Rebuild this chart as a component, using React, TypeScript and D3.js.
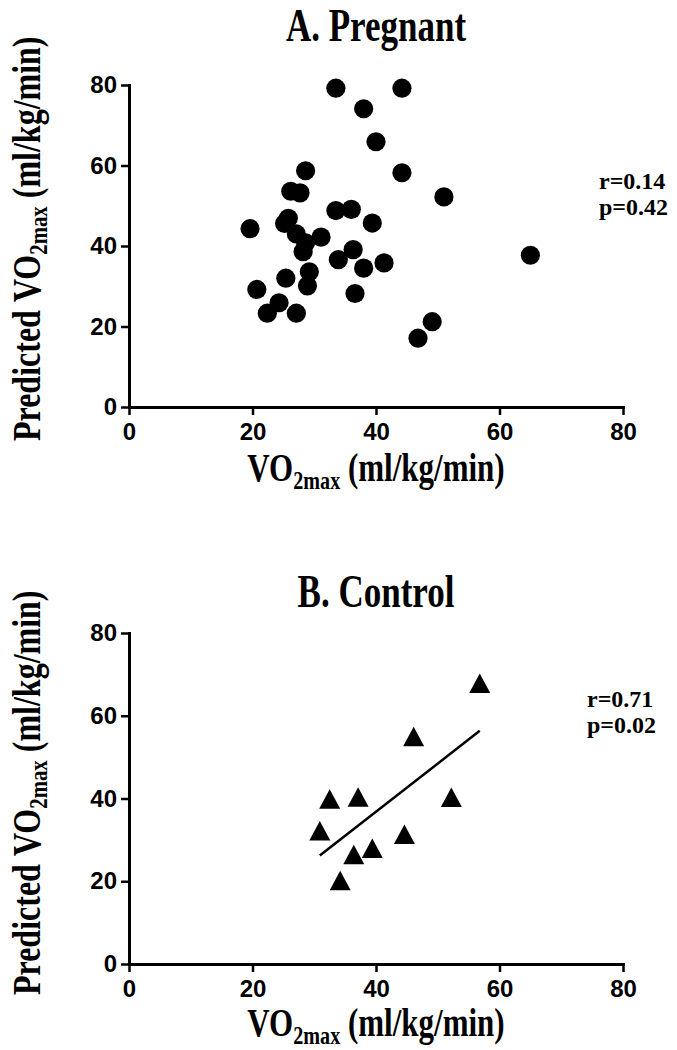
import * as d3 from "d3";
import { useEffect, useRef } from "react";

// Panel A: pregnant women
const pregnantVO2max = [
  33.5, 44.2, 38.0, 40.0, 28.6, 44.2, 51.0, 26.2, 27.7, 33.5, 36.0, 39.4, 25.8, 25.2, 19.6, 27.1, 31.1,
  28.6, 28.2, 36.3, 33.9, 41.3, 38.0, 29.2, 25.4, 28.9, 20.7, 36.6, 24.3, 22.4, 27.1, 49.1, 46.8, 65.0,
];
const pregnantPredicted = [
  79.2, 79.2, 74.1, 65.9, 58.7, 58.2, 52.2, 53.6, 53.2, 48.8, 49.1, 45.7, 46.9, 45.6, 44.3, 43.0, 42.2,
  40.8, 38.6, 39.1, 36.6, 35.8, 34.5, 33.6, 32.0, 30.1, 29.2, 28.2, 25.9, 23.3, 23.3, 21.2, 17.1, 37.7,
];

// Panel B: controls
const controlVO2max = [56.8, 46.1, 32.5, 37.1, 52.2, 30.9, 44.6, 36.4, 39.4, 34.2];
const controlPredicted = [67.7, 54.8, 39.7, 40.2, 40.1, 32.0, 31.2, 26.3, 27.8, 20.0];

const axisTicks = [0, 20, 40, 60, 80];
const titles = ["A. Pregnant", "B. Control"];
const stats = [
  ["r=0.14", "p=0.42"],
  ["r=0.71", "p=0.02"],
];

const width = 677;
const height = 1050;
const serif = "'Liberation Serif', 'Times New Roman', serif";
const sans = "'Liberation Sans', Arial, sans-serif";

const layouts = [
  { left: 129, right: 623, top: 85, bottom: 407, titleY: 41, statX: 599, statY: 189, yLabelStart: 441, xLabelY: 481 },
  { left: 129, right: 623, top: 633, bottom: 964, titleY: 607, statX: 587, statY: 707, yLabelStart: 995, xLabelY: 1036 },
];

function addVO2Label(text: d3.Selection<SVGTextElement, unknown, null, undefined>, prefix: string, size: number) {
  if (prefix) text.append("tspan").text(prefix);
  text.append("tspan").text("VO");
  text.append("tspan").attr("font-size", size * 0.65).attr("dy", 6).text("2max");
  text.append("tspan").attr("dy", -6).text(" (ml/kg/min)");
}

export default function App() {
  const ref = useRef<SVGSVGElement>(null);

  useEffect(() => {
    if (!ref.current) return;
    const svg = d3.select(ref.current);
    svg.selectAll("*").remove();

    const panels = [
      { xs: pregnantVO2max, ys: pregnantPredicted, marker: "circle", fit: false },
      { xs: controlVO2max, ys: controlPredicted, marker: "triangle", fit: true },
    ];

    panels.forEach((p, i) => {
      const L = layouts[i];
      const x = d3.scaleLinear().domain([0, 80]).range([L.left, L.right]);
      const y = d3.scaleLinear().domain([0, 80]).range([L.bottom, L.top]);
      const g = svg.append("g");

      // title
      const cx = (L.left + L.right) / 2;
      g.append("g")
        .attr("transform", `translate(${cx},${L.titleY}) scale(1,1.3)`)
        .append("text")
        .attr("text-anchor", "middle")
        .attr("font-family", serif)
        .attr("font-weight", "bold")
        .attr("font-size", 35)
        .text(titles[i]);

      // axes
      const xAxis = g
        .append("g")
        .attr("transform", `translate(0,${L.bottom})`)
        .call(d3.axisBottom(x).tickValues(axisTicks).tickSize(8).tickSizeOuter(0).tickPadding(8));
      const yAxis = g
        .append("g")
        .attr("transform", `translate(${L.left},0)`)
        .call(d3.axisLeft(y).tickValues(axisTicks).tickSize(8).tickSizeOuter(0).tickPadding(4));

      [xAxis, yAxis].forEach((a) => {
        a.select(".domain").attr("stroke", "#000").attr("stroke-width", 3).attr("stroke-linecap", "square");
        a.selectAll(".tick line").attr("stroke", "#000").attr("stroke-width", 2.5);
        a.selectAll(".tick text")
          .attr("fill", "#000")
          .attr("font-family", sans)
          .attr("font-weight", "bold")
          .attr("font-size", 24);
      });

      // x label
      const xl = g
        .append("g")
        .attr("transform", `translate(${cx},${L.xLabelY}) scale(1,1.27)`)
        .append("text")
        .attr("text-anchor", "middle")
        .attr("font-family", serif)
        .attr("font-weight", "bold")
        .attr("font-size", 31);
      addVO2Label(xl, "", 31);

      // y label
      const yl = g
        .append("g")
        .attr("transform", `translate(40,${L.yLabelStart}) rotate(-90) scale(1,1.22)`)
        .append("text")
        .attr("text-anchor", "start")
        .attr("font-family", serif)
        .attr("font-weight", "bold")
        .attr("font-size", 32);
      addVO2Label(yl, "Predicted ", 32);

      // stats
      stats[i].forEach((s, k) => {
        g.append("text")
          .attr("x", L.statX)
          .attr("y", L.statY + k * 26)
          .attr("font-family", serif)
          .attr("font-weight", "bold")
          .attr("font-size", 24)
          .text(s);
      });

      const pts = p.xs.map((v, k) => [v, p.ys[k]] as [number, number]);

      // regression line
      if (p.fit) {
        const mx = d3.mean(p.xs)!;
        const my = d3.mean(p.ys)!;
        const sxy = d3.sum(pts, (d) => (d[0] - mx) * (d[1] - my));
        const sxx = d3.sum(p.xs, (v) => (v - mx) ** 2);
        const slope = sxy / sxx;
        const icpt = my - slope * mx;
        const [x0, x1] = d3.extent(p.xs) as [number, number];
        const line = d3
          .line<number>()
          .x((v) => x(v))
          .y((v) => y(icpt + slope * v));
        g.append("path").attr("d", line([x0, x1])).attr("stroke", "#000").attr("stroke-width", 2.5).attr("fill", "none");
      }

      // markers
      if (p.marker === "circle") {
        g.append("g")
          .selectAll("circle")
          .data(pts)
          .join("circle")
          .attr("cx", (d) => x(d[0]))
          .attr("cy", (d) => y(d[1]))
          .attr("r", 9.6)
          .attr("fill", "#000");
      } else {
        g.append("g")
          .selectAll("path")
          .data(pts)
          .join("path")
          .attr("transform", (d) => `translate(${x(d[0])},${y(d[1])})`)
          .attr("d", "M0,-10.5L10.5,9L-10.5,9Z")
          .attr("fill", "#000");
      }
    });

    return () => {
      svg.selectAll("*").remove();
    };
  }, []);

  return (
    <svg
      ref={ref}
      width={width}
      height={height}
      style={{ position: "absolute", left: 0, top: 0, background: "#fff" }}
    />
  );
}
